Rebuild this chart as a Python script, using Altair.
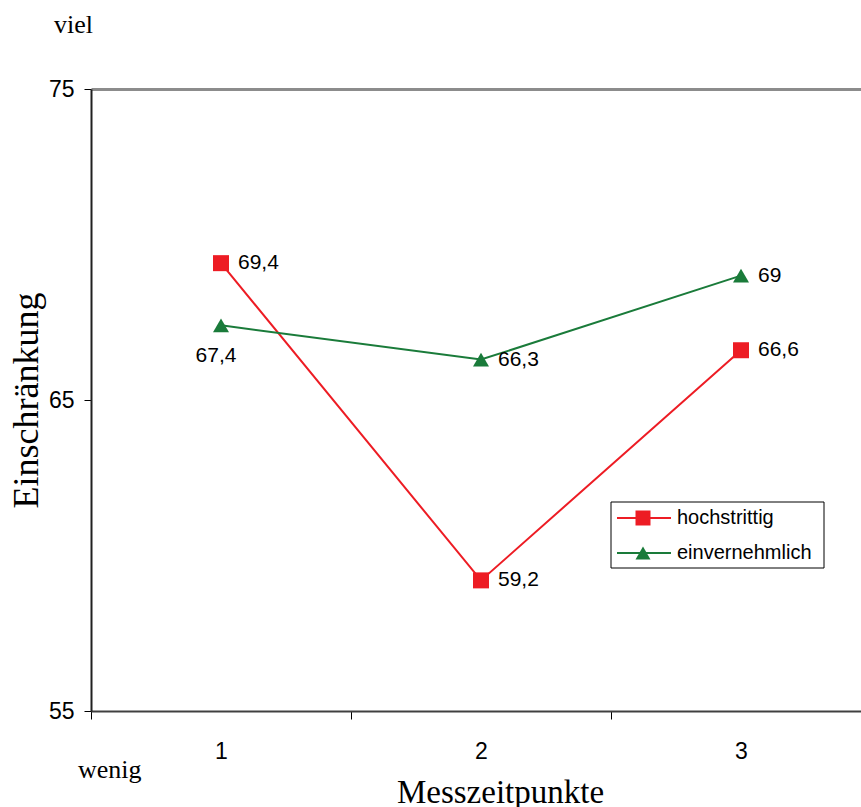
import altair as alt
import pandas as pd

# ---- data ----
zeitpunkte = [1, 2, 3]
series = ["hochstrittig", "einvernehmlich"]
hochstrittig = [69.4, 59.2, 66.6]
einvernehmlich = [67.4, 66.3, 69.0]
colors = ["#ED1C24", "#1A7B3A"]
y_ticks = [55, 65, 75]

rows = []
for t, v in zip(zeitpunkte, hochstrittig):
    rows.append({"t": t, "v": v, "serie": series[0]})
for t, v in zip(zeitpunkte, einvernehmlich):
    rows.append({"t": t, "v": v, "serie": series[1]})
df = pd.DataFrame(rows)

SANS = "Liberation Sans"
SERIF = "Liberation Serif"

x_enc = alt.X(
    "t:Q",
    scale=alt.Scale(domain=[0.5, 3.4615], nice=False, zero=False),
    axis=alt.Axis(
        values=[0.5, 1, 1.5, 2, 2.5, 3],
        labelExpr="datum.value % 1 === 0 ? format(datum.value, 'd') : ''",
        tickOpacity={"condition": {"test": "datum.value % 1 === 0", "value": 0}, "value": 1},
        tickSize=8,
        tickColor="black",
        tickWidth=1,
        domainColor="#404040",
        domainWidth=2,
        labelFont=SANS,
        labelFontSize=23,
        labelColor="black",
        labelPadding=21,
        labelBaseline="top",
        grid=False,
        title="Messzeitpunkte",
        titleFont=SERIF,
        titleFontSize=33,
        titleFontWeight="normal",
        titleColor="black",
        titleX=409,
        titleY=91,
        titleAlign="center",
        titleBaseline="alphabetic",
    ),
)
y_enc = alt.Y(
    "v:Q",
    scale=alt.Scale(domain=[55, 75], nice=False, zero=False),
    axis=alt.Axis(
        values=y_ticks,
        tickSize=7,
        tickColor="black",
        tickWidth=1,
        domainColor="#202020",
        domainWidth=2,
        labelFont=SANS,
        labelFontSize=23,
        labelColor="black",
        labelPadding=10,
        grid=True,
        gridColor="#8c8c8c",
        gridWidth=3,
        gridOpacity={"condition": {"test": "datum.value === 75", "value": 1}, "value": 0},
        title="Einschränkung",
        titleFont=SERIF,
        titleFontSize=36,
        titleFontWeight="normal",
        titleColor="black",
        titleAngle=270,
        titleX=-54,
        titleY=311,
        titleAlign="center",
        titleBaseline="alphabetic",
    ),
)
color_enc = alt.Color("serie:N", scale=alt.Scale(domain=series, range=colors), legend=None)
shape_enc = alt.Shape("serie:N", scale=alt.Scale(domain=series, range=["square", "triangle-up"]), legend=None)

base = alt.Chart(df)

lines = base.mark_line(strokeWidth=2).encode(x=x_enc, y=y_enc, color=color_enc)
points = base.mark_point(filled=True, size=256, opacity=1).encode(
    x=x_enc, y=y_enc, color=color_enc, shape=shape_enc
)

lab_expr = "replace(format(datum.v, '.1~f'), '.', ',')"
labels_right = (
    base.transform_filter("!(datum.serie == 'einvernehmlich' && datum.t == 1)")
    .transform_calculate(lab=lab_expr)
    .mark_text(align="left", baseline="middle", dx=17, fontSize=21, font=SANS, color="black")
    .encode(x=x_enc, y=y_enc, text="lab:N")
)
labels_below = (
    base.transform_filter("datum.serie == 'einvernehmlich' && datum.t == 1")
    .transform_calculate(lab=lab_expr)
    .mark_text(align="center", baseline="middle", dx=-5, dy=31, fontSize=21, font=SANS, color="black")
    .encode(x=x_enc, y=y_enc, text="lab:N")
)

one = pd.DataFrame({"a": [0]})
viel = alt.Chart(one).mark_text(
    align="left", baseline="alphabetic", font=SERIF, fontSize=26, color="black"
).encode(x=alt.value(-37), y=alt.value(-56), text=alt.value("viel"))
wenig = alt.Chart(one).mark_text(
    align="left", baseline="alphabetic", font=SERIF, fontSize=26, color="black"
).encode(x=alt.value(-13), y=alt.value(689), text=alt.value("wenig"))

# legend box
leg_box = alt.Chart(one).mark_rect(fill="white", stroke="black", strokeWidth=1).encode(
    x=alt.value(520), x2=alt.value(733), y=alt.value(413), y2=alt.value(479)
)
leg_layers = [leg_box]
for name, col, shp, yy in zip(series, colors, ["square", "triangle-up"], [429, 464]):
    leg_layers.append(
        alt.Chart(one).mark_rule(color=col, strokeWidth=2).encode(
            x=alt.value(526), x2=alt.value(580), y=alt.value(yy)
        )
    )
    leg_layers.append(
        alt.Chart(one).mark_point(shape=shp, filled=True, size=225, color=col, opacity=1).encode(
            x=alt.value(552), y=alt.value(yy)
        )
    )
    leg_layers.append(
        alt.Chart(one).mark_text(align="left", baseline="middle", font=SANS, fontSize=20, color="black").encode(
            x=alt.value(586), y=alt.value(yy), text=alt.value(name)
        )
    )

chart = alt.layer(lines, points, labels_right, labels_below, viel, wenig, *leg_layers).properties(
    width=770,
    height=622,
    autosize=alt.AutoSizeParams(type="none"),
    padding={"left": 91, "top": 89, "right": 0, "bottom": 96},
    background="white",
).configure_view(stroke=None)

chart.save("out.html", embed_options={"renderer": "svg", "actions": False})
